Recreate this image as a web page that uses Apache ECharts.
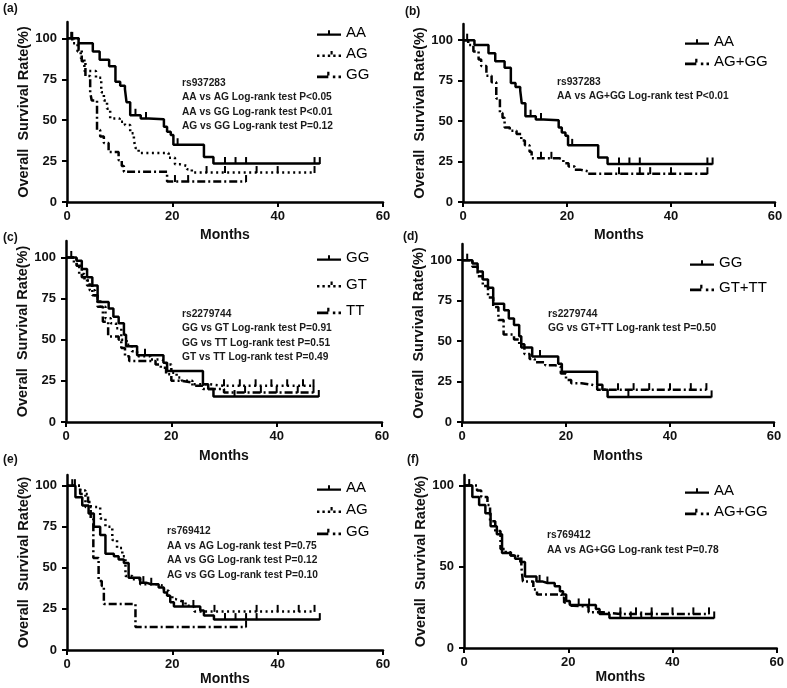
<!DOCTYPE html>
<html>
<head>
<meta charset="UTF-8">
<script src="https://cdn.jsdelivr.net/npm/echarts@6/dist/echarts.min.js"></script>
<style>
  html, body { margin: 0; padding: 0; background: #fff; }
  #main { width: 787px; height: 688px; }
</style>
</head>
<body>
<div id="main"></div>
<script>
// --- data: [month, survival %] at each event, plus censor times ---
var xTicks = [0, 20, 40, 60];
var yTicks = [0, 25, 50, 75, 100];
var yTicksF = [0, 50, 100];

// rs937283 (a, b)
var abAA = [[0,100],[2.2,97],[4.9,92],[6.2,87],[8,83],[9.2,73.5],[10.1,71],[11,69],[11.3,61],[12,53],[14,51],[15.5,50.5],[18.4,46],[19,43],[19.7,41],[20.2,35],[26,27.5],[27.8,23.5]];
var abAAc = [0.8, 13, 15, 21, 30, 32, 34, 47, 48];
var aAG = [[0,100],[1,97],[2,92],[2.6,88],[3.3,80],[5.5,76],[6.5,67],[7,62],[7.6,57],[8.2,51],[10,49],[11,47],[12,42],[12.7,38],[13,33],[13.6,30],[19.3,27],[20.5,23],[21.5,22],[22.8,20],[23.7,18]];
var aAGc = [26.5, 30, 36, 40, 47];
var aGG = [[0,100],[2.2,93],[2.8,86],[3.5,77],[4.4,67],[4.7,62],[5.7,44],[6.3,40],[7,36],[7.9,30.5],[9.8,25.5],[10.4,22],[10.8,18.5],[19,12.5]];
var aGGc = [1, 20.5, 23, 34];
var bAGGG = [[0,100],[1,97],[2,93],[3,88],[3.5,84],[4.5,78],[5.5,74],[6.4,64],[7.1,55],[7.6,52],[8,46],[9,44],[10.3,42],[11.2,38],[11.9,35],[12.8,31],[13.2,27],[18.6,26],[19.3,24],[20.3,22],[21.5,20],[22.5,19],[24,17.5]];
var bAGGGc = [15, 17, 30, 34, 36, 40, 47];

// rs2279744 (c, d)
var cdGG = [[0,100],[2,98],[3,93],[4,88],[5,83],[6,73],[8.1,69],[9,64],[10,60],[11,53],[11.4,46],[13.5,40.5],[18.5,36],[19.2,31],[26,23],[27,20],[28,15.5]];
var cdGGc = [1, 15, 32, 48];
var cGT = [[0,100],[1.5,96],[2.5,90],[3.5,86],[4.5,80],[5.5,75],[6.5,70],[7.5,63],[8.5,60],[9.5,57],[10.5,50],[11.5,47],[12.5,43],[13.5,40],[16,38],[18,37],[19,35],[20,30],[21,27],[22,25],[24,23],[27,22]];
var cGTc = [30, 33, 36, 39, 42, 45, 47];
var cTT = [[0,100],[2,95],[3,88],[4,83],[5,77],[6,70],[7,61],[8,52],[10,50],[10.5,45],[11.2,40],[12,37],[17,35],[18,33],[19,29],[20,25],[22,24],[24,22],[26,20],[30,18]];
var cTTc = [34, 37, 40, 44, 47];
var dGTTT = [[0,100],[2,96],[3,90],[4,84],[5,77],[6,71],[7,63],[8,54],[10,51],[11,48],[12,42],[13,39],[14,37],[16,35],[18,34],[19,30],[20,26],[21,24],[23,23],[25,22],[26,20]];
var dGTTTc = [30, 33, 36, 40, 44, 47];

// rs769412 (e, f)
var efAA = [[0,100],[1.6,93],[2.9,88],[4.1,83],[5.1,75],[6.3,70],[7.3,58.5],[8.9,57],[9.8,55],[10.8,53],[11.7,44],[13.9,41],[15,40],[17.4,38],[18.4,35],[19,33],[19.6,29],[20.3,26.5],[25.3,24],[26,21],[27.9,18.5]];
var efAAc = [1, 14.5, 16, 22, 24, 30, 32, 34, 36, 48];
var eAG = [[0,100],[2.5,97],[3.5,87],[6.3,80],[7.3,75],[8.6,67],[9.5,62],[10.5,57],[11.1,45],[12.4,43],[13.9,40],[17.1,39],[18.4,36],[19.3,33],[20,31],[20.6,30],[21.5,29],[22.5,27],[23.8,26],[24.2,23.5]];
var eAGc = [1.5, 28, 36, 40, 44, 47];
var eGG = [[0,100],[2.5,95],[4,90],[4.5,80],[5,56],[6,42],[6.6,39],[7,28],[13,14]];
var eGGc = [34];
var fAGGG = [[0,100],[2.5,97],[3.3,93],[4.5,88],[5,78],[6,72],[7,61],[8,59],[9,57],[10,56],[11,50],[11.3,41],[13.3,36],[14,33],[18.7,31],[19.2,28],[20.3,26],[21,25.5],[23.9,22],[26.7,21]];
var fAGGGc = [30, 33, 36, 40, 44, 47];

var annA = ['rs937283', 'AA vs AG Log-rank test P<0.05', 'AA vs GG Log-rank test P<0.01', 'AG vs GG Log-rank test P=0.12'];
var annB = ['rs937283', 'AA vs AG+GG Log-rank test P<0.01'];
var annC = ['rs2279744', 'GG vs GT Log-rank test P=0.91', 'GG vs TT Log-rank test P=0.51', 'GT vs TT Log-rank test P=0.49'];
var annD = ['rs2279744', 'GG vs GT+TT Log-rank test P=0.50'];
var annE = ['rs769412', 'AA vs AG Log-rank test P=0.75', 'AA vs GG Log-rank test P=0.12', 'AG vs GG Log-rank test P=0.10'];
var annF = ['rs769412', 'AA vs AG+GG Log-rank test P=0.78'];

// --- styles ---
var FONT = 'Liberation Sans, Arial, sans-serif';
var SOLID = { dash: 'solid', icon: 'path://M0,4.8H24V7.2H0Z M11,1.5H13V4.8H11Z' };
var DOT = { dash: [2, 3.5], icon: 'path://M0,4.8H2.2V7.2H0Z M5,4.8H7.2V7.2H5Z M10,4.8H12.2V7.2H10Z M15,4.8H17.2V7.2H15Z M20,4.8H22.2V7.2H20Z M12.5,1.5H14.5V4.8H12.5Z' };
var DASHDOT = { dash: [8, 3, 2, 3], icon: 'path://M0,4.8H10V7.2H0Z M9,1.5H11V4.8H9Z M14,4.8H16.2V7.2H14Z M19,4.8H21.2V7.2H19Z' };
var TICK = 'path://M0,0H2V10H0Z';

var panels = [
  { tag: '(a)', tagX: 3, tagY: 3, grid: [67, 22, 316, 180], ymax: 110, yt: yTicks, yGap: 36, xGap: 26,
    curves: [['AA', abAA, abAAc, SOLID], ['AG', aAG, aAGc, DOT], ['GG', aGG, aGGc, DASHDOT]],
    leg: [317, 25.5, 6], ann: annA, annX: 182, annY: 75.5 },
  { tag: '(b)', tagX: 405, tagY: 6, grid: [463, 24, 312, 178], ymax: 110, yt: yTicks, yGap: 30, xGap: 26,
    curves: [['AA', abAA, abAAc, SOLID], ['AG+GG', bAGGG, bAGGGc, DASHDOT]],
    leg: [685, 34.5, 5], ann: annB, annX: 557, annY: 74.5 },
  { tag: '(c)', tagX: 3, tagY: 232, grid: [66, 241, 316, 181], ymax: 110, yt: yTicks, yGap: 35, xGap: 27,
    curves: [['GG', cdGG, cdGGc, SOLID], ['GT', cGT, cGTc, DOT], ['TT', cTT, cTTc, DASHDOT]],
    leg: [317, 250.5, 11.5], ann: annC, annX: 182, annY: 306.5 },
  { tag: '(d)', tagX: 403, tagY: 231, grid: [462, 244, 312, 178], ymax: 110, yt: yTicks, yGap: 31, xGap: 27,
    curves: [['GG', cdGG, cdGGc, SOLID], ['GT+TT', dGTTT, dGTTTc, DASHDOT]],
    leg: [690, 255.5, 10], ann: annD, annX: 548, annY: 306.5 },
  { tag: '(e)', tagX: 3, tagY: 454, grid: [67, 475, 316, 175], ymax: 106.5, yt: yTicks, yGap: 35, xGap: 21,
    curves: [['AA', efAA, efAAc, SOLID], ['AG', eAG, eAGc, DOT], ['GG', eGG, eGGc, DASHDOT]],
    leg: [317, 480.5, 7], ann: annE, annX: 167, annY: 524 },
  { tag: '(f)', tagX: 407, tagY: 454, grid: [464, 475, 313, 173], ymax: 106.5, yt: yTicksF, yGap: 32, xGap: 19,
    curves: [['AA', efAA, efAAc, SOLID], ['AG+GG', fAGGG, fAGGGc, DASHDOT]],
    leg: [685, 483.5, 6], ann: annF, annX: 547, annY: 528 }
];

// merge event steps with censor ticks (censor sits on the current step level)
function kmData(steps, cens) {
  var pts = steps.map(function (p) { return { value: p }; });
  cens.forEach(function (t) {
    var s = steps[0][1];
    steps.forEach(function (p) { if (p[0] <= t) s = p[1]; });
    pts.push({ value: [t, s], symbol: TICK });
  });
  pts.sort(function (a, b) { return a.value[0] - b.value[0]; });
  return pts;
}

var grids = [], xAxes = [], yAxes = [], series = [], legends = [], graphics = [];

panels.forEach(function (p, i) {
  grids.push({ left: p.grid[0], top: p.grid[1], width: p.grid[2], height: p.grid[3] });
  xAxes.push({
    gridIndex: i, type: 'value', min: 0, max: 60, interval: 20,
    name: 'Months', nameLocation: 'middle', nameGap: p.xGap,
    nameTextStyle: { fontFamily: FONT, fontSize: 14, fontWeight: 'bold', color: '#111' },
    axisLine: { onZero: false, lineStyle: { color: '#000', width: 2.5 } },
    axisTick: { length: 5, lineStyle: { color: '#000', width: 2 }, customValues: xTicks },
    axisLabel: { fontFamily: FONT, fontSize: 13, fontWeight: 'bold', color: '#111', margin: 8, customValues: xTicks },
    splitLine: { show: false }
  });
  yAxes.push({
    gridIndex: i, type: 'value', min: 0, max: p.ymax, interval: 25,
    name: 'Overall  Survival Rate(%)', nameLocation: 'middle', nameGap: p.yGap,
    nameTextStyle: { fontFamily: FONT, fontSize: 14.5, fontWeight: 'bold', color: '#111' },
    axisLine: { lineStyle: { color: '#000', width: 2.5 } },
    axisTick: { length: 5, lineStyle: { color: '#000', width: 2 }, customValues: p.yt },
    axisLabel: { fontFamily: FONT, fontSize: 13, fontWeight: 'bold', color: '#111', margin: 10, customValues: p.yt },
    splitLine: { show: false }
  });
  var items = [];
  p.curves.forEach(function (c) {
    var nm = i + ':' + c[0];
    items.push({ name: nm, icon: c[3].icon });
    series.push({
      type: 'line', name: nm, xAxisIndex: i, yAxisIndex: i, step: 'end',
      data: kmData(c[1], c[2]),
      symbol: 'none', symbolSize: [2, 7], symbolOffset: [0, -3], showSymbol: true,
      lineStyle: { color: '#000', width: 2.5, type: c[3].dash, cap: 'butt' },
      itemStyle: { color: '#000' },
      emphasis: { disabled: true }
    });
  });
  legends.push({
    data: items, orient: 'vertical', left: p.leg[0], top: p.leg[1], itemGap: p.leg[2],
    itemWidth: 24, itemHeight: 10, padding: 0, selectedMode: false, symbolKeepAspect: true,
    formatter: function (n) { return n.split(':')[1]; },
    textStyle: { fontFamily: FONT, fontSize: 15, lineHeight: 15, color: '#000' }
  });
  graphics.push({
    type: 'text', left: p.tagX, top: p.tagY,
    style: { text: p.tag, fontFamily: FONT, fontSize: 12, fontWeight: 'bold', fill: '#111' }
  });
  graphics.push({
    type: 'text', left: p.annX, top: p.annY,
    style: { text: p.ann.join('\n'), fontFamily: FONT, fontSize: 10.2, fontWeight: 'bold', lineHeight: 14.5, fill: '#1a1a1a' }
  });
});

var chart = echarts.init(document.getElementById('main'), null, { renderer: 'canvas' });
chart.setOption({
  animation: false,
  backgroundColor: '#fff',
  grid: grids,
  xAxis: xAxes,
  yAxis: yAxes,
  legend: legends,
  graphic: graphics,
  series: series
});
</script>
</body>
</html>
